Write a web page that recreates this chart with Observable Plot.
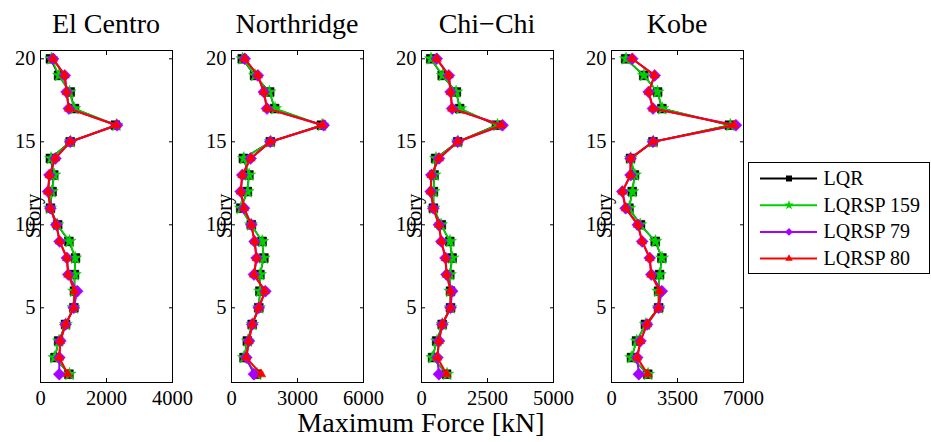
<!DOCTYPE html>
<html>
<head>
<meta charset="utf-8">
<script src="https://cdn.jsdelivr.net/npm/d3@7"></script>
<script src="https://cdn.jsdelivr.net/npm/@observablehq/plot@0.6"></script>
<style>
  body { margin: 0; background: #fff; }
  #root { position: relative; width: 931px; height: 442px; font-family: 'Liberation Serif', serif; color: #000; }
  .panel { position: absolute; top: 0; }
  .title { position: absolute; top: 8px; font-size: 28px; text-align: center; width: 190px; white-space: nowrap; }
  .xlabel { position: absolute; top: 409px; left: 0; width: 842px; text-align: center; font-size: 28px; line-height: 28px; }
  .legend { position: absolute; left: 748px; top: 162px; width: 182px; height: 112px; border: 1px solid #000; background: #fff; box-sizing: border-box; }
</style>
</head>
<body>
<div id="root"></div>
<script>
const FONT = "'Liberation Serif', serif";
const stories = [1,2,3,4,5,6,7,8,9,10,11,12,13,14,15,16,17,18,19,20];
const panelTitles = ["El Centro", "Northridge", "Chi\u2212Chi", "Kobe"];
const xMax = [4000, 6000, 5000, 7000];
const xTicks = [[0,2000,4000],[0,3000,6000],[0,2500,5000],[0,3500,7000]];
const yTicks = [5,10,15,20];
const seriesNames = ["LQR", "LQRSP 159", "LQRSP 79", "LQRSP 80"];
const seriesColors = ["#000000", "#00d000", "#a600ff", "#ff0000"];
const seriesSymbols = ["square", "star", "diamond2", "triangle"];

// values by story 1..20
const elCentroLQR    = [860, 440, 550, 760, 1010, 1030, 1030, 1060, 860, 520, 300, 350, 400, 300, 900, 2270, 1030, 900, 550, 300];
const elCentro159    = [880, 420, 560, 770, 1000, 1020, 1040, 1050, 880, 510, 290, 340, 420, 320, 910, 2300, 1020, 880, 560, 330];
const elCentro79     = [570, 570, 600, 760, 1010, 1110, 840, 800, 580, 480, 300, 230, 270, 450, 900, 2320, 860, 790, 735, 380];
const elCentro80     = [830, 570, 600, 760, 1010, 1030, 840, 800, 580, 480, 300, 230, 270, 450, 900, 2300, 860, 790, 735, 380];

const northridgeLQR  = [1140, 570, 720, 940, 1240, 1290, 1290, 1470, 1390, 900, 420, 720, 790, 540, 1765, 4085, 1960, 1735, 1050, 490];
const northridge159  = [1160, 560, 740, 950, 1250, 1300, 1300, 1460, 1400, 890, 430, 730, 800, 560, 1780, 4120, 1980, 1720, 1070, 500];
const northridge79   = [1020, 670, 790, 940, 1240, 1540, 1020, 1140, 1050, 900, 570, 420, 490, 870, 1765, 4190, 1615, 1470, 1200, 600];
const northridge80   = [1350, 670, 790, 940, 1240, 1520, 1020, 1140, 1050, 900, 570, 420, 490, 870, 1765, 4150, 1615, 1470, 1200, 600];

const chiChiLQR      = [950, 420, 575, 785, 1100, 1100, 1070, 1160, 1070, 750, 450, 450, 475, 535, 1370, 2840, 1445, 1320, 785, 350];
const chiChi159      = [970, 410, 590, 790, 1100, 1090, 1080, 1170, 1080, 740, 460, 460, 490, 550, 1380, 2880, 1460, 1310, 800, 360];
const chiChi79       = [660, 600, 660, 785, 1100, 1160, 950, 910, 750, 660, 450, 350, 375, 660, 1370, 3070, 1160, 1100, 1035, 575];
const chiChi80       = [950, 600, 660, 785, 1100, 1100, 950, 910, 750, 660, 450, 350, 375, 660, 1370, 3030, 1160, 1100, 1035, 575];

const kobeLQR        = [1920, 1060, 1330, 1800, 2500, 2500, 2550, 2670, 2320, 1535, 925, 1100, 1220, 1010, 2200, 6250, 2670, 2445, 1710, 750];
const kobe159        = [1940, 1050, 1340, 1820, 2500, 2480, 2560, 2680, 2330, 1520, 940, 1110, 1240, 1020, 2220, 6300, 2690, 2440, 1720, 770];
const kobe79         = [1450, 1360, 1535, 1885, 2500, 2670, 2110, 2025, 1625, 1400, 750, 575, 1010, 1010, 2200, 6600, 2200, 1970, 2290, 1100];
const kobe80         = [1920, 1360, 1535, 1885, 2500, 2550, 2110, 2025, 1625, 1400, 750, 575, 1010, 1010, 2200, 6500, 2200, 1970, 2290, 1100];

const panelData = [
  [elCentroLQR, elCentro159, elCentro79, elCentro80],
  [northridgeLQR, northridge159, northridge79, northridge80],
  [chiChiLQR, chiChi159, chiChi79, chiChi80],
  [kobeLQR, kobe159, kobe79, kobe80]
];

const root = document.getElementById("root");
const panelLefts = [0, 191, 381, 571];
const symSize = [5.0, 4.1, 5.4, 3.4];
const lineW = [1.5, 1.8, 2, 2];

panelData.forEach((series, p) => {
  const marks = [];
  series.forEach((vals, s) => {
    const rows = stories.map((st, i) => ({story: st, force: vals[i]}));
    marks.push(Plot.line(rows, {x: "force", y: "story", stroke: seriesColors[s], strokeWidth: lineW[s]}));
    marks.push(Plot.dot(rows, {x: "force", y: "story", symbol: () => seriesSymbols[s], fill: seriesColors[s], stroke: seriesColors[s], strokeWidth: 0.5, r: symSize[s]}));
  });
  marks.push(Plot.frame({stroke: "#000", strokeWidth: 1}));
  marks.push(Plot.axisY({anchor: "left", ticks: yTicks, tickSize: -4, tickPadding: 9, fontSize: 20.5, label: null}));
  marks.push(Plot.axisY({anchor: "right", ticks: yTicks, tickSize: -4, tickFormat: () => "", label: null}));
  marks.push(Plot.axisX({anchor: "bottom", ticks: xTicks[p], tickSize: -4, tickPadding: 12, fontSize: 20.5, tickFormat: d => String(d), label: null}));
  marks.push(Plot.axisX({anchor: "top", ticks: xTicks[p], tickSize: -4, tickFormat: () => "", label: null}));

  const chart = Plot.plot({
    width: 190,
    height: 410,
    marginTop: 50,
    marginBottom: 28,
    marginLeft: 40,
    marginRight: 18,
    style: {fontFamily: FONT, fontSize: "20px", color: "#000", background: "transparent", overflow: "visible"},
    x: {domain: [0, xMax[p]]},
    y: {domain: [0.5, 20.5]},
    symbol: {type: "identity"},
    marks
  });
  chart.classList.add("panel");
  chart.style.left = panelLefts[p] + "px";
  root.appendChild(chart);

  const t = document.createElement("div");
  t.className = "title";
  t.style.left = (panelLefts[p] + 40 + 66 - 95) + "px";
  t.textContent = panelTitles[p];
  root.appendChild(t);

  const yl = document.createElement("div");
  yl.textContent = "Story";
  yl.style.cssText = `position:absolute; font-size:20.5px; line-height:22px; left:${panelLefts[p] + 8}px; top:205px; width:50px; text-align:center; transform: rotate(-90deg); transform-origin: 50% 50%;`;
  root.appendChild(yl);
});

const xl = document.createElement("div");
xl.className = "xlabel";
xl.textContent = "Maximum Force [kN]";
root.appendChild(xl);

// legend
const legend = document.createElement("div");
legend.className = "legend";
root.appendChild(legend);
const legRows = seriesNames.map((name, i) => ({name, i}));
const leg = Plot.plot({
  width: 180,
  height: 110,
  margin: 0,
  x: {domain: [0, 180], axis: null},
  y: {domain: [0, 110], axis: null, reverse: true},
  symbol: {type: "identity"},
  style: {fontFamily: FONT, background: "transparent"},
  marks: [
    Plot.ruleY(legRows, {y: d => 15 + d.i * 26.7, x1: 11, x2: 68, stroke: d => seriesColors[d.i], strokeWidth: 2}),
    Plot.dot(legRows, {x: 39.5, y: d => 15 + d.i * 26.7, symbol: d => seriesSymbols[d.i], fill: d => seriesColors[d.i], r: d => symSize[d.i]}),
    Plot.text(legRows, {x: 74, y: d => 15 + d.i * 26.7, text: "name", textAnchor: "start", fontSize: 20, fill: "#000"})
  ]
});
leg.style.position = "absolute";
leg.style.left = "0px";
leg.style.top = "0px";
legend.appendChild(leg);
</script>
</body>
</html>
